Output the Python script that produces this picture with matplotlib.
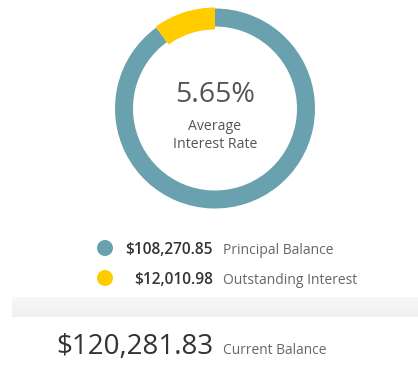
import numpy as np
import matplotlib
matplotlib.use("Agg")
import matplotlib.pyplot as plt
from matplotlib.patches import Wedge, Circle
from matplotlib.colors import LinearSegmentedColormap

plt.rcParams['font.family'] = ['Open Sans', 'DejaVu Sans']

# data
labels = ["Principal Balance", "Outstanding Interest"]
amounts = [108270.85, 12010.98]
colors = ["#69a2ae", "#ffcc00"]
rate = 5.65
total = sum(amounts)

W, H = 418, 368
fig = plt.figure(figsize=(W / 100, H / 100), dpi=100)
ax = fig.add_axes([0, 0, 1, 1])
ax.set_xlim(0, W)
ax.set_ylim(H, 0)
ax.axis("off")

# donut -- y axis is flipped, so screen top is -90 and angles run clockwise
cx, cy = 215, 108.5
ang_int = amounts[1] / total * 360
ax.add_patch(Wedge((cx, cy), 100, -90, 270 - ang_int, width=18, color=colors[0], lw=0))
ax.add_patch(Wedge((cx, cy), 101, -90 - ang_int, -90, width=22, color=colors[1], lw=0))

ax.text(cx, 102, f"{rate:.2f}%", ha="center", va="baseline", fontsize=20.5, color="#555555")
ax.text(cx, 129.5, "Average", ha="center", va="baseline", fontsize=10.2, color="#555555")
ax.text(cx, 148.5, "Interest Rate", ha="center", va="baseline", fontsize=10.2, color="#555555")

# legend rows
for i, (lab, amt, col) in enumerate(zip(labels, amounts, colors)):
    y = 254 + i * 30
    ax.add_patch(Circle((105, y - 6), 8, color=col, lw=0))
    ax.text(213, y, f"${amt:,.2f}", ha="right", va="baseline", fontsize=11.2,
            fontweight="semibold", color="#333333")
    ax.text(223, y, lab, ha="left", va="baseline", fontsize=10, color="#666666")

# shaded band
grad = np.linspace(0, 1, 50).reshape(-1, 1)
band = LinearSegmentedColormap.from_list("band", ["#f8f8f8", "#f0f0f0"])
ax.imshow(grad, extent=(12, W, 317, 297), cmap=band, aspect="auto", zorder=0)

ax.text(213, 354, f"${total:,.2f}", ha="right", va="baseline", fontsize=20, color="#333333")
ax.text(223, 354, "Current Balance", ha="left", va="baseline", fontsize=9.9, color="#666666")

fig.savefig("out.png", dpi=100)
